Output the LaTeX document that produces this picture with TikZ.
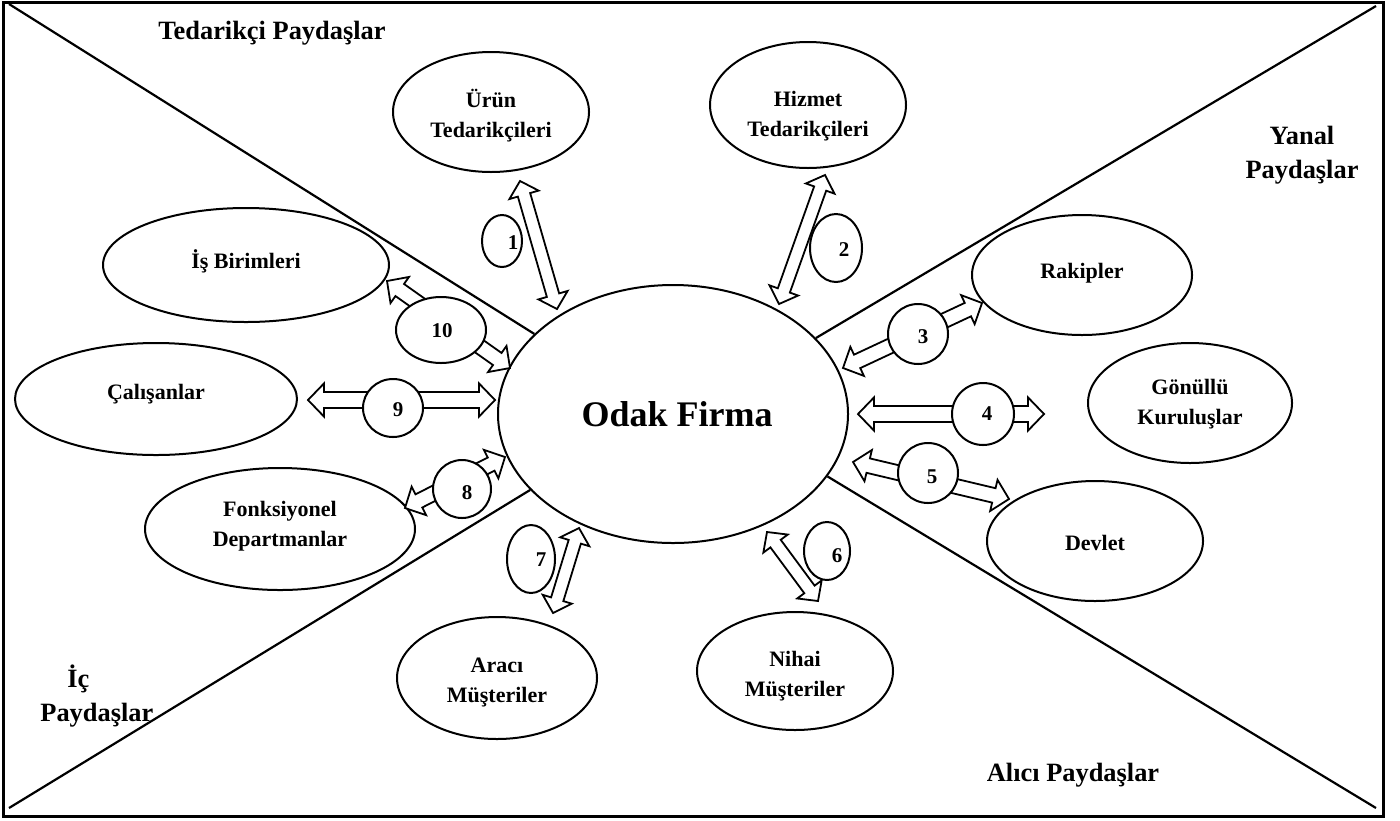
\documentclass[tikz,border=0pt]{standalone}
\usepackage{fontspec}
\setmainfont{Liberation Serif}
\usetikzlibrary{calc,shapes.geometric}

% hollow double-headed block arrow between two named points:
% #1,#2 tips, #3 half shaft width, #4 half head width, #5 head length
\newcommand\hollowarrow[5]{%
  \coordinate (ha-p) at ($(#1)!#5!(#2)$);
  \coordinate (ha-q) at ($(#2)!#5!(#1)$);
  \draw[blockarrow] (#1) -- ($(ha-p)!#4!90:(#2)$) -- ($(ha-p)!#3!90:(#2)$)
    -- ($(ha-q)!#3!-90:(#1)$) -- ($(ha-q)!#4!-90:(#1)$) -- (#2)
    -- ($(ha-q)!#4!90:(#1)$) -- ($(ha-q)!#3!90:(#1)$)
    -- ($(ha-p)!#3!-90:(#2)$) -- ($(ha-p)!#4!-90:(#2)$) -- cycle;}
\newcommand\arrowthin[2]{\hollowarrow{#1}{#2}{3.2pt}{7.6pt}{7.2pt}}
\newcommand\arrowmid[2]{\hollowarrow{#1}{#2}{3.7pt}{8pt}{7.8pt}}
\newcommand\arrowwide[2]{\hollowarrow{#1}{#2}{4pt}{8.3pt}{8pt}}

\tikzset{
  bubble/.style={draw, ellipse, line width=1pt, fill=white, inner sep=0pt},
  bubbletext/.style={inner sep=0pt, align=center,
    font=\bfseries\fontsize{11}{15}\selectfont},
  numbubble/.style={draw, ellipse, line width=1pt, fill=white, inner sep=0pt},
  numtext/.style={inner sep=0pt, font=\bfseries\fontsize{10.5}{12}\selectfont},
  regiontext/.style={inner sep=0pt, align=center,
    font=\bfseries\fontsize{13.2}{17}\selectfont},
  divider/.style={line width=1.1pt},
  blockarrow/.style={draw, line width=0.9pt, fill=white, line join=miter},
}

\begin{document}
\begin{tikzpicture}[x=0.5pt, y=-0.5pt]
\useasboundingbox (0,0) rectangle (1400,820);

% outer frame
\draw[line width=1.5pt] (3,2) rectangle (1383,816);

% stakeholder groups
\node[regiontext] (tedarikci) at (272,33) {Tedarikçi Paydaşlar};
\node[regiontext] (yanal) at (1302,155) {Yanal\\Paydaşlar};
\node[regiontext, align=left, anchor=west] (ic) at (40,696) {\hspace*{13.5pt}İç\\Paydaşlar};
\node[regiontext] (alici) at (1073,775) {Alıcı Paydaşlar};

% focal firm
\node[bubble, minimum width=175pt, minimum height=129pt] (odak) at (673,414) {};
\node[bubbletext, font=\bfseries\fontsize{18}{20}\selectfont] at ($(odak)+(4,0)$) {Odak Firma};

% corners of the frame for the dividing lines
\coordinate (ctl) at (9,4);
\coordinate (ctr) at (1376,6);
\coordinate (cbl) at (9,808);
\coordinate (cbr) at (1376,808);
\draw[divider] (ctl) -- (odak.150);
\draw[divider] (ctr) -- (odak.28.5);
\draw[divider] (cbl) -- (odak.208);
\draw[divider] (cbr) -- (odak.338);

% stakeholders
\node[bubble, minimum width=98pt,  minimum height=60pt] (urun)    at (491,112) {};
\node[bubble, minimum width=98pt,  minimum height=63pt] (hizmet)  at (808,105) {};
\node[bubble, minimum width=110pt, minimum height=60pt] (rakip)   at (1082,275) {};
\node[bubble, minimum width=102pt, minimum height=60pt] (gonullu) at (1190,403) {};
\node[bubble, minimum width=108pt, minimum height=60pt] (devlet)  at (1095,541) {};
\node[bubble, minimum width=98pt,  minimum height=59pt] (nihai)   at (795,671) {};
\node[bubble, minimum width=100pt, minimum height=61pt] (araci)   at (497,678) {};
\node[bubble, minimum width=135pt, minimum height=61pt] (fonk)    at (280,529) {};
\node[bubble, minimum width=141pt, minimum height=56pt] (calisan) at (156,399) {};
\node[bubble, minimum width=143pt, minimum height=57pt] (isbirim) at (246,265) {};

\node[bubbletext] at ($(urun)+(0,4)$)     {Ürün\\Tedarikçileri};
\node[bubbletext] at ($(hizmet)+(0,11)$)  {Hizmet\\Tedarikçileri};
\node[bubbletext] at ($(rakip)+(0,-2)$)   {Rakipler};
\node[bubbletext] at ($(gonullu)+(0,1)$)  {Gönüllü\\Kuruluşlar};
\node[bubbletext] at ($(devlet)+(0,2)$)   {Devlet};
\node[bubbletext] at ($(nihai)+(0,5)$)    {Nihai\\Müşteriler};
\node[bubbletext] at ($(araci)+(0,4)$)    {Aracı\\Müşteriler};
\node[bubbletext] at ($(fonk)+(0,-3)$)    {Fonksiyonel\\Departmanlar};
\node[bubbletext] at ($(calisan)+(0,-5)$) {Çalışanlar};
\node[bubbletext] at ($(isbirim)+(0,-4)$) {İş Birimleri};

% arrow tips
\coordinate (a1s) at (520,181);  \coordinate (a1e) at (557,309);
\coordinate (a2s) at (825,175);  \coordinate (a2e) at (779,304);
\coordinate (a3s) at (843,368);  \coordinate (a3e) at (982,303);
\coordinate (a4s) at (858,414);  \coordinate (a4e) at (1044,414);
\coordinate (a5s) at (853,462);  \coordinate (a5e) at (1009,499);
\coordinate (a6s) at (767,532);  \coordinate (a6e) at (818,601);
\coordinate (a7s) at (579,528);  \coordinate (a7e) at (553,613);
\coordinate (a8s) at (505,457);  \coordinate (a8e) at (405,508);
\coordinate (a9s) at (308,400);  \coordinate (a9e) at (495,400);
\coordinate (a10s) at (387,281); \coordinate (a10e) at (510,368);

\arrowthin{a1s}{a1e}
\arrowthin{a2s}{a2e}
\arrowmid{a3s}{a3e}
\arrowwide{a4s}{a4e}
\arrowmid{a5s}{a5e}
\arrowthin{a6s}{a6e}
\arrowthin{a7s}{a7e}
\arrowmid{a8s}{a8e}
\arrowwide{a9s}{a9e}
\arrowmid{a10s}{a10e}

% numbered relation markers
\node[numbubble, minimum width=20pt, minimum height=26pt] (n1)  at (502,241) {};
\node[numbubble, minimum width=26pt, minimum height=34pt] (n2)  at (836,248) {};
\node[numbubble, minimum width=30pt, minimum height=30pt] (n3)  at (918,334) {};
\node[numbubble, minimum width=31pt, minimum height=31pt] (n4)  at (983,414) {};
\node[numbubble, minimum width=30pt, minimum height=30pt] (n5)  at (928,473) {};
\node[numbubble, minimum width=23pt, minimum height=29pt] (n6)  at (827,551) {};
\node[numbubble, minimum width=24pt, minimum height=34pt] (n7)  at (531,559) {};
\node[numbubble, minimum width=29pt, minimum height=29pt] (n8)  at (462,489) {};
\node[numbubble, minimum width=30pt, minimum height=29pt] (n9)  at (393,408) {};
\node[numbubble, minimum width=45pt, minimum height=33pt] (n10) at (441,330) {};

\node[numtext] at ($(n1)+(11,2)$) {1};
\node[numtext] at ($(n2)+(8,2)$) {2};
\node[numtext] at ($(n3)+(5,3)$) {3};
\node[numtext] at ($(n4)+(4,0)$) {4};
\node[numtext] at ($(n5)+(4,4)$) {5};
\node[numtext] at ($(n6)+(10,5)$) {6};
\node[numtext] at ($(n7)+(10,1)$) {7};
\node[numtext] at ($(n8)+(5,4)$) {8};
\node[numtext] at ($(n9)+(5,2)$) {9};
\node[numtext] at ($(n10)+(1,1)$) {10};
\end{tikzpicture}
\end{document}
